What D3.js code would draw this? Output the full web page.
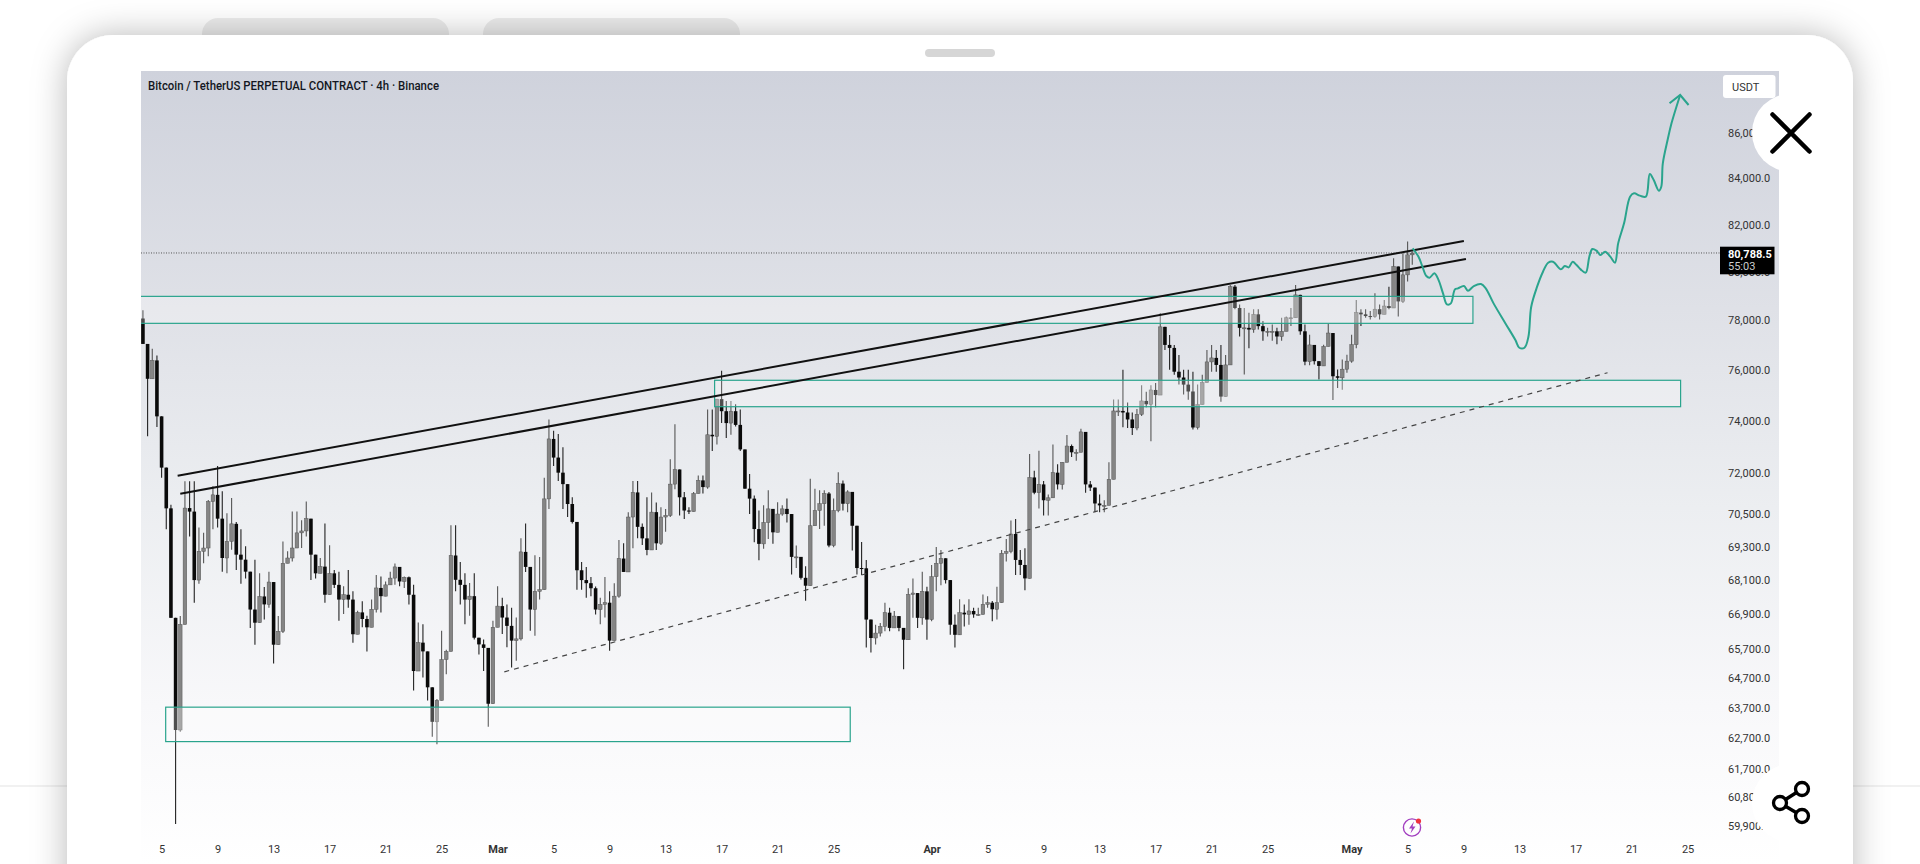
<!DOCTYPE html>
<html><head><meta charset="utf-8">
<script src="https://cdn.jsdelivr.net/npm/d3@7"></script>
<style>html,body{margin:0;padding:0;background:#fff;overflow:hidden}svg{display:block}</style>
</head><body><div id="c"></div>
<script>
const titleText = "Bitcoin / TetherUS PERPETUAL CONTRACT · 4h · Binance";
const firstOpen = 78070;
const firstTime = Date.UTC(2026,1,3,16);
const stepMs = 8*3600*1000;
const closes = [
77040,75650,76380,74180,72220,70700,66770,62970,66540,70710,70580,68100,69130,69250,70950,71200,70320,68890,69490,70130,69010,68830,68400,67060,66600,67520,67240,68030,65840,66300,68700,68890,69250,69800,69870,70320,69010,68340,68580,
67580,68340,67930,67410,67580,67410,66200,66960,66730,66440,67070,67820,67530,67930,68170,68570,68050,68200,67580,64940,65910,65610,64390,63240,63950,65330,65610,68980,68110,67930,67410,67530,66080,65850,65730,63840,66440,67180,
66780,66490,65980,66040,69110,68570,67060,67700,67760,71050,73310,72600,72030,71600,70860,70200,68450,68100,67990,67810,67060,67240,67300,65980,67530,68870,68390,70380,71290,70020,69600,69180,70560,69420,70380,70440,71600,72150,71110,
70620,70580,71250,71740,71490,73470,73410,74850,74380,73920,74380,73850,72910,71430,71060,69940,69400,70180,70680,69820,70490,70680,70490,68930,68930,68180,67900,70060,70620,70870,71250,69340,70620,71620,70870,71310,70060,68530,
68520,66710,66070,66240,66470,66950,66420,66830,66420,66010,67590,67640,66770,67700,66710,68220,68700,68880,68100,66530,66180,66950,66890,67010,66890,66890,67240,67300,67070,67300,69060,69120,69760,68820,68640,68160,71850,71280,71590,
71000,71090,72030,71590,72420,73040,72800,72800,73580,71590,71470,70880,70810,70810,71780,74390,74390,74330,74060,73730,74260,74780,74650,75210,75010,77730,77000,76880,75930,75700,75420,75150,73750,74640,75500,76320,76480,76200,74950,76200,
79380,78500,77690,77690,77620,78240,77760,77550,77550,77550,77340,77550,78100,78100,79040,77550,76330,77000,76350,76160,76940,77480,75750,75690,76030,76350,77010,78310,78240,78170,78150,78450,78240,78580,78500,80220,78770,79870,80710,80780];
const highs = [
78410,77040,76850,76580,74180,71960,70830,66070,66830,71710,71710,71710,70000,69800,71010,71520,72280,71330,70520,71080,70200,69930,69310,68340,68830,68340,67850,68400,68030,66830,69490,69130,70580,70580,70260,70950,70320,69010,68890,
70140,69350,68460,68400,67880,68460,67700,67020,67350,66840,67410,68280,68230,68050,68400,68690,68570,68230,68230,67930,66610,66550,64990,64280,64000,66320,65670,70080,70080,68750,68340,68000,68340,66080,66020,65730,66670,67880,
67470,67240,67120,66780,69600,70140,68390,68990,68930,71840,74060,73620,73500,72990,71540,71110,70200,68750,68570,68210,67870,67470,68210,67700,67990,69540,69420,70560,71720,71720,70140,71110,71290,70920,70740,70680,72540,73870,72150,
71310,70740,71310,71920,71920,74450,74450,74850,75970,74780,74780,74650,74450,72910,71980,71180,70620,70810,71370,70620,70930,70810,71060,70430,69340,68870,68590,71800,71430,71370,71370,71310,71060,72050,71740,71370,71310,70000,
69470,68820,66710,66530,66590,67300,67120,67010,66770,66420,67810,68160,67640,68400,67860,68640,69290,69180,68640,68100,66890,67420,67240,67420,67120,67120,67590,67530,67360,67860,69180,69580,70250,70310,69180,69240,72740,72100,72860,
71720,71210,73100,72350,72420,73460,73100,72920,73700,73580,71720,71470,71210,71000,72420,74840,74840,76010,74720,74330,74470,75400,75140,75400,75480,78290,77730,77400,77000,76600,76010,76010,75930,75420,75810,76800,77000,76800,77000,76600,
79450,79450,78640,78500,78310,78450,78450,77970,77690,77830,77690,78100,78150,78500,79450,79040,77830,77410,76940,76350,77010,77860,77480,76020,76420,76610,77410,78830,78450,78450,78380,79110,78640,78830,79380,80570,80220,80780,81270,80850];
const lows = [
77040,73410,75650,73770,71840,69930,66770,59950,62910,66540,69670,67300,67970,68700,68950,69930,70000,68400,68340,69190,68460,67970,68160,66420,65840,66770,66710,67120,65200,65900,66240,68760,68760,69310,69250,69670,68100,68160,68340,
67300,67580,67820,66670,66900,67120,65910,66380,66440,65610,66670,66960,66960,67530,67930,67930,67880,67820,67240,64280,65160,64720,63950,62750,62500,63950,64830,65610,67700,67240,66550,66840,66020,65500,64940,63080,63840,66440,
66210,65750,65060,65290,65980,68390,66320,66150,67410,67760,70680,72280,71720,70680,70380,70140,67760,67760,67470,67530,66890,66550,66780,65630,65980,67470,68390,68390,69240,69600,69360,68990,69180,69180,69360,69840,70380,71410,70440,
70310,70490,70680,71250,71250,71430,72850,73100,73920,73350,73470,73790,72850,71430,70490,69460,68810,69220,69580,69400,70060,70430,70180,68300,68530,68120,67370,67900,70060,69940,70060,69280,69280,70560,70620,70560,69160,68300,
68280,65740,65570,65850,66120,66300,66300,66470,66300,65000,66010,66770,66420,66530,66010,66650,67700,67920,67980,66180,65740,66470,66470,66530,66770,66830,66890,67120,66650,66710,67300,68760,69060,68280,68280,67740,68160,71220,70690,
70440,70440,71400,71400,71400,72420,72620,72480,72800,71280,71340,70560,70560,70560,70810,71780,74190,73760,73730,73460,73640,74190,74530,73220,74530,75010,76800,76010,75810,75420,75030,74830,73670,73670,74640,75500,75930,75930,74750,74950,
76200,78450,77340,75820,76870,77490,77620,77170,77340,77170,77030,77170,77760,77760,78100,77410,76190,76190,76220,75620,76160,76940,74820,75290,75220,75890,76290,76870,77760,78100,78030,78100,78030,78450,78450,78500,78150,78700,79590,80290];

const priceTicks = [86000,84000,82000,80000,78000,76000,74000,72000,70500,69300,68100,66900,65700,64700,63700,62700,61700,60800,59900];
const timeTicks = ["2026-02-05","2026-02-09","2026-02-13","2026-02-17","2026-02-21","2026-02-25","2026-03-01","2026-03-05","2026-03-09","2026-03-13","2026-03-17","2026-03-21","2026-03-25","2026-04-01","2026-04-05","2026-04-09","2026-04-13","2026-04-17","2026-04-21","2026-04-25","2026-05-01","2026-05-05","2026-05-09","2026-05-13","2026-05-17","2026-05-21","2026-05-25"];
const lastPrice = 80788.5, lastLabel = "80,788.5", countdown = "55:03", unitLabel = "USDT";

const zoneTop = {from:"2026-02-01T00:00Z", to:"2026-05-09T16:00Z", hi:78978, lo:77873};
const zoneMid = {from:"2026-03-16T12:00Z", to:"2026-05-24T12:00Z", hi:75591, lo:74555};
const zoneLow = {from:"2026-02-05T07:00Z", to:"2026-03-26T04:30Z", hi:63726, lo:62590};
const trendUpper = [["2026-02-06T03:30Z",71916],["2026-05-09T00:30Z",81294]];
const trendLower = [["2026-02-06T08:00Z",71243],["2026-05-09T04:00Z",80533]];
const trendDash  = [["2026-03-01T11:30Z",64913],["2026-05-19T06:45Z",75890]];

const forecastDays = [65.36,65.78,66.06,66.34,66.57,66.91,67.19,67.53,67.81,68.09,68.38,68.60,69.03,69.31,69.73,70.24,70.58,71.14,71.99,72.70,72.98,73.35,73.63,73.83,74.25,74.67,75.04,75.38,75.95,76.23,76.51,76.79,77.07,77.36,77.72,77.98,78.20,78.49,78.77,79.11,79.48,79.81,80.04,80.46,80.89,81.17,81.59,82.02,82.30,82.58,82.95,83.12,83.23,83.57,83.85,84.47];
const forecastPrices = [80984,80632,80210,79821,79753,79933,79682,79101,78647,78690,79267,79309,79405,79212,79405,79488,79309,78690,77871,77197,76887,76887,77331,78552,79378,80002,80379,80422,80100,80239,80184,80422,80281,80100,79961,80632,80955,80885,80702,80843,80632,80379,81195,82048,83200,83344,83244,83200,84191,83926,83460,83635,84661,85699,86450,87738];
const arrowDays = [83.71,84.47,85.07];
const arrowPrices = [87357,87738,87281];

const W=1920,H=864, TEAL="#2aa48d";
const svg=d3.select("#c").append("svg").attr("width",W).attr("height",H);
const defs=svg.append("defs");
const g=defs.append("linearGradient").attr("id","bg").attr("x1",0).attr("x2",0).attr("y1",0).attr("y2",1);
[[0,"#cfd2dc"],[.3,"#dfe1e7"],[.55,"#eceef1"],[.8,"#f8f8fa"],[1,"#ffffff"]].forEach(s=>g.append("stop").attr("offset",s[0]).attr("stop-color",s[1]));
defs.append("clipPath").attr("id","plot").append("rect").attr("x",141).attr("y",71).attr("width",1638).attr("height",793);
const f=defs.append("filter").attr("id","sh").attr("x","-10%").attr("y","-10%").attr("width","120%").attr("height","120%");
f.append("feDropShadow").attr("dx",0).attr("dy",0).attr("stdDeviation",17).attr("flood-color","#000").attr("flood-opacity",.28);

const x=d3.scaleUtc().domain([new Date("2026-02-05T00:00Z"),new Date("2026-05-25T00:00Z")]).range([161.6,1687.6]);
const y=d3.scaleLog().domain([59900,86000]).range([825.7,133.3]);
const dayDate=d=>new Date(Date.UTC(2026,2,1)+d*86400000);

// page furniture
svg.append("g").selectAll("rect").data([[202,247],[483,257]]).join("rect")
  .attr("x",d=>d[0]).attr("y",18).attr("width",d=>d[1]).attr("height",40).attr("rx",16).attr("fill","#ececec");
svg.append("g").selectAll("line").data([[0,67],[1853,1920]]).join("line")
  .attr("x1",d=>d[0]).attr("x2",d=>d[1]).attr("y1",786).attr("y2",786).attr("stroke","#ececec").attr("stroke-width",1.5);
svg.append("rect").attr("x",67).attr("y",35).attr("width",1786).attr("height",900).attr("rx",46).attr("fill","#fff").attr("filter","url(#sh)");
svg.append("rect").attr("x",925).attr("y",49).attr("width",70).attr("height",8).attr("rx",4).attr("fill","#d6d6d6");
svg.append("rect").attr("x",141).attr("y",71).attr("width",1638).attr("height",793).attr("fill","url(#bg)");

// candles
const candles=closes.map((c,i)=>({t:new Date(firstTime+i*stepMs),o:i?closes[i-1]:firstOpen,c,h:highs[i],l:lows[i]}));
const plot=svg.append("g").attr("clip-path","url(#plot)");
const cg=plot.append("g");
cg.selectAll("line").data(candles).join("line")
  .attr("x1",d=>x(d.t)).attr("x2",d=>x(d.t))
  .attr("y1",d=>y(Math.max(d.h,d.o,d.c))).attr("y2",d=>y(Math.min(d.l,d.o,d.c)))
  .attr("stroke",d=>d.c>=d.o?"#555":"#222").attr("stroke-width",1.1);
cg.selectAll("rect").data(candles).join("rect")
  .attr("x",d=>x(d.t)-1.8).attr("width",3.6)
  .attr("y",d=>y(Math.max(d.o,d.c))).attr("height",d=>Math.max(1,Math.abs(y(d.o)-y(d.c))))
  .attr("fill",d=>d.c>=d.o?"#858585":"#0a0a0a").attr("stroke",d=>d.c>=d.o?"#555":"none").attr("stroke-width",.5);

// zones
plot.append("g").selectAll("rect").data([zoneTop,zoneMid,zoneLow]).join("rect")
  .attr("x",d=>x(new Date(d.from))).attr("width",d=>x(new Date(d.to))-x(new Date(d.from)))
  .attr("y",d=>y(d.hi)).attr("height",d=>y(d.lo)-y(d.hi))
  .attr("fill","rgba(255,255,255,.28)").attr("stroke",TEAL).attr("stroke-width",1.2);

// last price line
plot.append("line").attr("x1",141).attr("x2",1722).attr("y1",y(lastPrice)).attr("y2",y(lastPrice))
  .attr("stroke","#555").attr("stroke-width",1).attr("stroke-dasharray","1 1.5");

// trend lines
const tl=d3.line().x(d=>x(new Date(d[0]))).y(d=>y(d[1]));
[trendUpper,trendLower].forEach(t=>plot.append("path").attr("d",tl(t)).attr("fill","none").attr("stroke","#111").attr("stroke-width",2));
plot.append("path").attr("d",tl(trendDash)).attr("fill","none").attr("stroke","#444").attr("stroke-width",1.2).attr("stroke-dasharray","5 5");

// forecast
const fl=d3.line().x(d=>x(dayDate(d[0]))).y(d=>y(d[1]));
plot.append("path").attr("d",fl.curve(d3.curveCatmullRom)(forecastDays.map((d,i)=>[d,forecastPrices[i]])))
  .attr("fill","none").attr("stroke",TEAL).attr("stroke-width",2);
plot.append("path").attr("d",fl.curve(d3.curveLinear)(arrowDays.map((d,i)=>[d,arrowPrices[i]])))
  .attr("fill","none").attr("stroke",TEAL).attr("stroke-width",2);

// title
const FONT="Roboto, 'Open Sans', sans-serif";
svg.append("text").attr("x",148).attr("y",90).text(titleText).attr("font-family",FONT).attr("font-size",12).attr("font-weight",500).attr("fill","#131722")
  .attr("textLength",291).attr("lengthAdjust","spacingAndGlyphs");

// axes
const yAxis=d3.axisRight(y).tickValues(priceTicks).tickSize(0).tickPadding(0).tickFormat(d=>d3.format(",.1f")(d));
const ya=svg.append("g").attr("transform","translate(1728,0)").call(yAxis);
ya.select(".domain").remove();
ya.selectAll("text").attr("font-family",FONT).attr("font-size",11).attr("fill","#333");

const xAxis=d3.axisBottom(x).tickValues(timeTicks.map(d=>new Date(d+"T00:00Z"))).tickSize(0).tickPadding(0)
  .tickFormat(d=>d.getUTCDate()===1?d3.utcFormat("%b")(d):String(d.getUTCDate()));
const xa=svg.append("g").attr("transform","translate(0,845)").call(xAxis);
xa.select(".domain").remove();
xa.selectAll("text").attr("font-family",FONT).attr("font-size",11).attr("fill","#333")
  .attr("font-weight",d=>d.getUTCDate()===1?700:400);

// USDT tag
svg.append("rect").attr("x",1723).attr("y",75).attr("width",52.5).attr("height",23).attr("rx",3).attr("fill","#fff");
svg.append("text").attr("x",1732).attr("y",91).text(unitLabel).attr("font-family",FONT).attr("font-size",11).attr("fill","#333");

// last price tag
svg.append("rect").attr("x",1720).attr("y",246.7).attr("width",54.5).attr("height",27.6).attr("fill","#000");
svg.append("text").attr("x",1728).attr("y",258).text(lastLabel).attr("font-family",FONT).attr("font-size",11).attr("font-weight",700).attr("fill","#fff");
svg.append("text").attr("x",1728).attr("y",270).text(countdown).attr("font-family",FONT).attr("font-size",11).attr("fill","#ccc");

// overlay buttons
svg.append("circle").attr("cx",1791).attr("cy",132.7).attr("r",39).attr("fill","#fff");
svg.append("circle").attr("cx",1791).attr("cy",803).attr("r",39).attr("fill","#fff");
svg.append("path").attr("d","M1772.5 114.5L1809.5 151.5M1809.5 114.5L1772.5 151.5").attr("stroke","#000").attr("stroke-width",4.5).attr("stroke-linecap","round");
svg.append("path").attr("d","M1780 803L1802 789M1780 803L1802 816").attr("stroke","#000").attr("stroke-width",3.5);
svg.append("g").selectAll("circle").data([[1802,789],[1780,803],[1802,816]]).join("circle")
  .attr("cx",d=>d[0]).attr("cy",d=>d[1]).attr("r",6.5).attr("fill","#fff").attr("stroke","#000").attr("stroke-width",3.3);

// lightning event icon
svg.append("circle").attr("cx",1412).attr("cy",827.5).attr("r",8.6).attr("fill","none").attr("stroke","#a23fc0").attr("stroke-width",1.4);
svg.append("path").attr("d","M1414 821.5L1409 828.5H1412L1410.5 833.5L1415.5 826.5H1412.5Z").attr("fill","#a23fc0");
svg.append("circle").attr("cx",1418.5).attr("cy",821).attr("r",2.6).attr("fill","#f0323c");
</script></body></html>
